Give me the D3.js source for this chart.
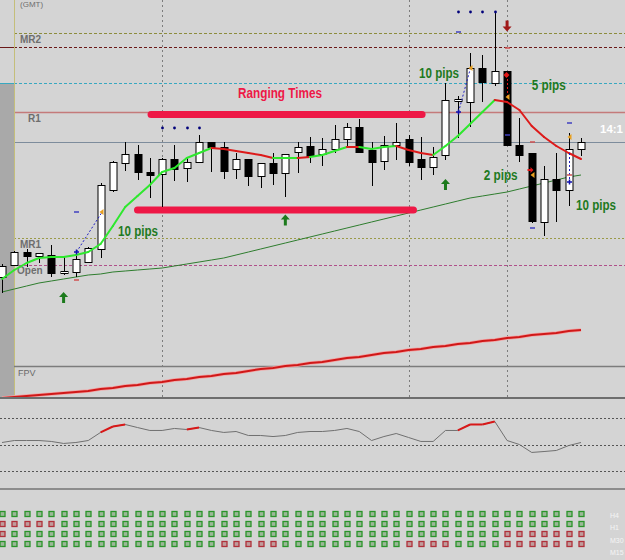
<!DOCTYPE html>
<html>
<head>
<meta charset="utf-8">
<script src="https://d3js.org/d3.v7.min.js"></script>
<style>
body{margin:0;background:#d4d4d4;overflow:hidden}
svg{display:block}
text{font-family:"Liberation Sans",Arial,sans-serif}
</style>
</head>
<body>
<div id="wrapper"></div>
<script>
// Data - candles, price in pips above chart base
const opens =[123,135,148,144,145,127,128,138,151,210,237,246,228,226,241,232,238,258,253,231,241,224,237,227,248,254,246,251,261,273,250,239,255,261,241,233,245,299,298,332,317,329,255,247,178,221,210,251];
const closes=[134,148,144,147,127,129,141,152,215,238,246,228,225,241,231,238,258,253,229,241,224,237,227,246,253,244,251,261,273,248,238,255,258,238,233,243,300,301,332,318,329,255,245,179,221,210,251,258];
const highs =[136,149,151,147,155,143,145,153,217,239,258,255,242,242,255,243,265,258,258,247,241,237,247,246,258,263,262,275,277,281,258,264,277,265,263,253,317,304,347,345,388,329,282,247,234,247,267,262];
const lows  =[107,134,133,137,123,125,123,137,142,208,229,220,202,193,219,218,238,228,221,221,214,212,215,203,227,237,234,247,253,248,214,230,240,234,220,225,240,262,273,298,314,255,238,177,164,178,194,244];

// moving averages
const fastMA=[121,130,137,142,143,143,145,148,156,174,193,204,215,228,232,242,247,252,251,249,247,245,242,242,242,243,245,249,253,253,251,253,254,250,247,245,254,264,276,288,300,298,290,274,263,254,247,241];
const fastTrend="ggggggggggggggggggrrrrrggrgggrgggrrrgggggrrrrrrr";
const slowMA=[108,111,114,117,119,121,123,125,126,128,129,130,131,132,134,136,138,140,142,145,148,151,154,157,160,163,166,169,172,175,178,181,184,187,190,193,196,199,202,204,206,208,211,214,217,220,223,225];
const longMA=[2,3,4,5,6,7,8,9,11,12,14,15,17,18,20,21,23,24,26,27,29,31,32,34,35,37,38,40,42,43,45,47,48,50,51,53,54,56,57,59,60,62,63,65,66,67,69,70];

// oscillator
const rsi=[51.5,53,53,53,52.3,50.8,51.5,53,59.1,63.6,65.1,62.8,60.6,60.6,62.1,61.3,62.8,60.6,59.1,59.8,56.8,56.8,56,56.8,59.1,59.8,59.8,60.6,62.1,59.8,53,56,58.3,55.3,52.3,52.3,60.6,60.6,65.1,65.1,67.4,53,50,44,44.7,45.5,49.2,51.5];
const rsiHot=[9,10,16,38,39,40];
const rsiLevels=[70,50,30];

// pivot levels
const levelPrices=[367,353,317,288,258,162,135];
const levelNames=["MR2","","","R1","","MR1","Open"];
const sessionBreaks=[13,33,41];

// signals
const blueDots=[[13,272],[14,272],[15,272],[16,272],[37,388],[38,388],[39,388],[40,388]];
const blueDashes=[[6,188],[37,368],[41,265],[43,172],[46,277]];
const redDashes=[[6,120],[41,352],[43,258],[46,225]];
const blueStars=[[6,148],[37,288],[46,218]];
const orangeMarks=[[8,188],[38,332],[41,303],[43,225],[46,263]];
const blueLinks=[[[6,148],[8,187]],[[37,288],[38,332]],[[46,247],[46,220]]];
const upArrows=[[5,102.5],[23,180],[36,215.5]];
const downArrows=[[41,374]];

// annotations
const rangeBars=[[12.1,34.1,285.5],[11.0,33.4,190]];
const pipLabels=["10 pips","10 pips","5 pips","2 pips","10 pips"];
const pipPos=[[9.42,164],[33.85,322],[43.0,310],[39.1,220],[46.6,190]];

// timeframe rows
const tfNames=["H4","H1","M30","M15"];
const tfRows=[
"gggggggggggggggggggggggggggggggggggggggggggggggg",
"rrrrrggggggggggggggggggggggggggggggggggggggggggg",
"rggggggggggggggggggggggggggggggggggggggggrrrrrrr",
"ggggggggggggggggggrrrrrggggggggggrrrrggggrrrrrrr"];

// Dimension
const dimension={width:625,height:560,priceBottom:398,oscBottom:489,leftEdge:14};

// Scales
const xScale=d3.scaleLinear().domain([0,47]).range([2,581]);
const yScale=d3.scaleLinear().domain([0,400]).range([400,0]);
const rsiScale=d3.scaleLinear().domain([30,70]).range([471,418]);
const px=i=>Math.round(xScale(i))+0.5;

const wrapper=d3.select("#wrapper").append("svg")
.attr("width",dimension.width).attr("height",dimension.height);
wrapper.append("defs").append("clipPath").attr("id","clipPrice")
.append("rect").attr("width",dimension.width).attr("height",dimension.priceBottom);
wrapper.append("rect").attr("width",dimension.width).attr("height",dimension.height).attr("fill","#d4d4d4");

const bounded=wrapper.append("g").attr("clip-path","url(#clipPrice)");

// left strip
bounded.append("rect").attr("x",0).attr("y",83).attr("width",dimension.leftEdge).attr("height",dimension.priceBottom-83).attr("fill","#a9a9a9");

// levels
const levelStyle=[
{c:"#8c8c3c",d:"3,2",w:1},{c:"#6a1818",d:"3,2",w:1},{c:"#38a8c0",d:"3,2",w:1},
{c:"#c47a7a",d:null,w:1.5},{c:"#7d8c9c",d:null,w:1},{c:"#9a9a48",d:"2,2",w:1},{c:"#b0508a",d:"3,2",w:1}];
levelPrices.forEach((p,k)=>{
  const y=Math.round(yScale(p))+0.5, s=levelStyle[k];
  bounded.append("line").attr("x1",dimension.leftEdge).attr("x2",dimension.width).attr("y1",y).attr("y2",y)
  .attr("stroke",s.c).attr("stroke-width",s.w).attr("stroke-dasharray",s.d);
  if(k==1||k==2) bounded.append("line").attr("x1",0).attr("x2",dimension.leftEdge).attr("y1",y).attr("y2",y).attr("stroke",s.c);
});

// session grid
bounded.selectAll(".grid").data(sessionBreaks).enter().append("line")
.attr("x1",d=>px(d)).attr("x2",d=>px(d)).attr("y1",0).attr("y2",dimension.priceBottom)
.attr("stroke","#7c7c7c").attr("stroke-dasharray","2,3");

bounded.append("line").attr("x1",14.5).attr("x2",14.5).attr("y1",0).attr("y2",dimension.priceBottom).attr("stroke","#c4be7a");

// level labels
const labelDx=[20,0,0,28,0,20,17];
levelPrices.forEach((p,k)=>{
  if(!levelNames[k]) return;
  bounded.append("text").attr("x",labelDx[k]).attr("y",yScale(p)+(k==6?9:10))
  .attr("font-size","10px").attr("font-weight","bold").attr("fill","#6e6e6e").text(levelNames[k]);
});
bounded.append("text").attr("x",20).attr("y",7).attr("font-size","8px").attr("fill","#6e6e6e").text("(GMT)");

// FPV separator
bounded.append("line").attr("x1",dimension.leftEdge).attr("x2",dimension.width).attr("y1",366.5).attr("y2",366.5).attr("stroke","#7c7c7c").attr("stroke-width",1.5);
bounded.append("text").attr("x",18).attr("y",376).attr("font-size","9px").attr("fill","#6a6a6a").text("FPV");

// long MA
const lineGen=arr=>d3.line().x((d,i)=>xScale(i)).y(d=>yScale(d))(arr);
bounded.append("path").attr("d",lineGen(longMA)).attr("fill","none").attr("stroke","#f2a4a4").attr("stroke-width",3.5);
bounded.append("path").attr("d",lineGen(longMA)).attr("fill","none").attr("stroke","#d01818").attr("stroke-width",2);

// slow MA
bounded.append("path").attr("d",lineGen(slowMA)).attr("fill","none").attr("stroke","#2e7d2e").attr("stroke-width",1);

// ranging bars
bounded.selectAll(".range").data(rangeBars).enter().append("line")
.attr("x1",d=>xScale(d[0])).attr("x2",d=>xScale(d[1])).attr("y1",d=>yScale(d[2])).attr("y2",d=>yScale(d[2]))
.attr("stroke","#ee1846").attr("stroke-width",7).attr("stroke-linecap","round");
bounded.append("text").attr("x",xScale(19.16)).attr("y",yScale(302)).attr("font-size","14px").attr("font-weight","bold")
.attr("fill","#ee1846").attr("textLength",84).attr("lengthAdjust","spacingAndGlyphs").text("Ranging Times");

// candles
const candles=bounded.selectAll(".candle").data(opens).enter().append("g");
candles.append("line").attr("x1",(d,i)=>px(i)).attr("x2",(d,i)=>px(i))
.attr("y1",(d,i)=>yScale(highs[i])).attr("y2",(d,i)=>yScale(lows[i])).attr("stroke","#000");
candles.append("rect").attr("x",(d,i)=>px(i)-3.5).attr("width",7)
.attr("y",(d,i)=>Math.round(yScale(Math.max(d,closes[i])))+0.5)
.attr("height",(d,i)=>Math.max(1,Math.round(Math.abs(yScale(d)-yScale(closes[i])))))
.attr("fill",(d,i)=>closes[i]>=d?"#fff":"#000").attr("stroke","#000");

// fast MA coloured by trend
for(let i=1;i<fastMA.length;i++){
  bounded.append("line").attr("x1",xScale(i-1)).attr("x2",xScale(i)).attr("y1",yScale(fastMA[i-1])).attr("y2",yScale(fastMA[i]))
  .attr("stroke",fastTrend[i]=="g"?"#2ee82e":"#dd1a1a").attr("stroke-width",2).attr("stroke-linecap","round");
}

// signals
blueLinks.forEach(l=>bounded.append("line").attr("x1",px(l[0][0])).attr("y1",yScale(l[0][1])).attr("x2",px(l[1][0])).attr("y2",yScale(l[1][1]))
.attr("stroke","#2020c0").attr("stroke-dasharray","2,2"));
bounded.append("line").attr("x1",px(41)).attr("x2",px(41)).attr("y1",yScale(325)).attr("y2",yScale(303)).attr("stroke","#e01818").attr("stroke-dasharray","2,2");
bounded.selectAll(".dot").data(blueDots).enter().append("circle").attr("cx",d=>px(d[0])).attr("cy",d=>yScale(d[1])).attr("r",1.4).attr("fill","#00007a");
bounded.selectAll(".bd").data(blueDashes).enter().append("line").attr("x1",d=>px(d[0])-2.5).attr("x2",d=>px(d[0])+2.5)
.attr("y1",d=>yScale(d[1])).attr("y2",d=>yScale(d[1])).attr("stroke","#4040c0").attr("stroke-width",1.5);
bounded.selectAll(".rd").data(redDashes).enter().append("line").attr("x1",d=>px(d[0])-2.5).attr("x2",d=>px(d[0])+2.5)
.attr("y1",d=>yScale(d[1])).attr("y2",d=>yScale(d[1])).attr("stroke","#d05050").attr("stroke-width",1.5);
bounded.selectAll(".star").data(blueStars).enter().append("path")
.attr("d",d=>{const x=px(d[0]),y=yScale(d[1]);return `M${x-2.5},${y}H${x+2.5}M${x},${y-2.5}V${y+2.5}`})
.attr("stroke","#1010b0").attr("stroke-width",1.5);
bounded.selectAll(".om").data(orangeMarks).enter().append("path")
.attr("d",d=>{const x=px(d[0])+1,y=yScale(d[1]);return `M${x-3},${y}L${x+1},${y-3}L${x+1},${y+3}Z`}).attr("fill","#e8a020");
bounded.append("path").attr("d",()=>{const x=px(41)-1,y=yScale(325);return `M${x},${y-3}L${x+3},${y}L${x},${y+3}L${x-3},${y}Z`}).attr("fill","#e01818");
bounded.append("path").attr("d",()=>{const x=px(43)-2,y=yScale(230);return `M${x-3},${y-1}H${x}V${y-3}L${x+3},${y}L${x},${y+3}V${y+1}H${x-3}Z`}).attr("fill","#e01818");

const arrowPath=(x,y,s)=>`M${x},${y-5.5*s}L${x+4.5},${y-0.5*s}L${x+1.5},${y-0.5*s}L${x+1.5},${y+5.5*s}L${x-1.5},${y+5.5*s}L${x-1.5},${y-0.5*s}L${x-4.5},${y-0.5*s}Z`;
bounded.selectAll(".up").data(upArrows).enter().append("path").attr("d",d=>arrowPath(xScale(d[0]),yScale(d[1]),1)).attr("fill","#1c7a1c");
bounded.selectAll(".down").data(downArrows).enter().append("path").attr("d",d=>arrowPath(xScale(d[0]),yScale(d[1]),-1)).attr("fill","#a01818");

// pip labels
bounded.selectAll(".pip").data(pipLabels).enter().append("text")
.attr("x",(d,i)=>xScale(pipPos[i][0])).attr("y",(d,i)=>yScale(pipPos[i][1]))
.attr("font-size","14px").attr("font-weight","bold").attr("fill","#1f7a1f")
.attr("textLength",d=>d.length==7?40:34).attr("lengthAdjust","spacingAndGlyphs").text(d=>d);

bounded.append("text").attr("x",600).attr("y",133).attr("font-size","11px").attr("font-weight","bold").attr("fill","#fff")
.attr("textLength",23).attr("lengthAdjust","spacingAndGlyphs").text("14:1");

// panel borders
wrapper.append("line").attr("x1",0).attr("x2",dimension.width).attr("y1",dimension.priceBottom).attr("y2",dimension.priceBottom).attr("stroke","#6e6e6e").attr("stroke-width",2);
wrapper.append("line").attr("x1",0).attr("x2",dimension.width).attr("y1",dimension.oscBottom).attr("y2",dimension.oscBottom).attr("stroke","#8c8c8c").attr("stroke-width",2);

// oscillator
wrapper.selectAll(".lvl").data(rsiLevels).enter().append("line")
.attr("x1",0).attr("x2",dimension.width).attr("y1",d=>Math.round(rsiScale(d))+0.5).attr("y2",d=>Math.round(rsiScale(d))+0.5)
.attr("stroke","#555").attr("stroke-dasharray","2,2");
wrapper.append("path").attr("d",d3.line().x((d,i)=>xScale(i)).y(d=>rsiScale(d))(rsi)).attr("fill","none").attr("stroke","#707070");
rsiHot.forEach(i=>wrapper.append("line").attr("x1",xScale(i-1)).attr("x2",xScale(i)).attr("y1",rsiScale(rsi[i-1])).attr("y2",rsiScale(rsi[i]))
.attr("stroke","#d81818").attr("stroke-width",2));

// timeframe squares
const rowY=[514,524,534,544];
tfRows.forEach((row,r)=>{
  wrapper.selectAll(".sq"+r).data(row.split("")).enter().append("rect")
  .attr("x",(d,i)=>px(i)-2.5).attr("y",rowY[r]-2.5).attr("width",5).attr("height",5)
  .attr("fill",d=>d=="g"?"#9cb898":"#c09c9c").attr("stroke",d=>d=="g"?"#2a942a":"#b0303a").attr("stroke-width",1.3);
  wrapper.append("text").attr("x",610).attr("y",518+r*12.3).attr("font-size","7px").attr("fill","#f4f4f4").text(tfNames[r]);
});
</script>
</body>
</html>
